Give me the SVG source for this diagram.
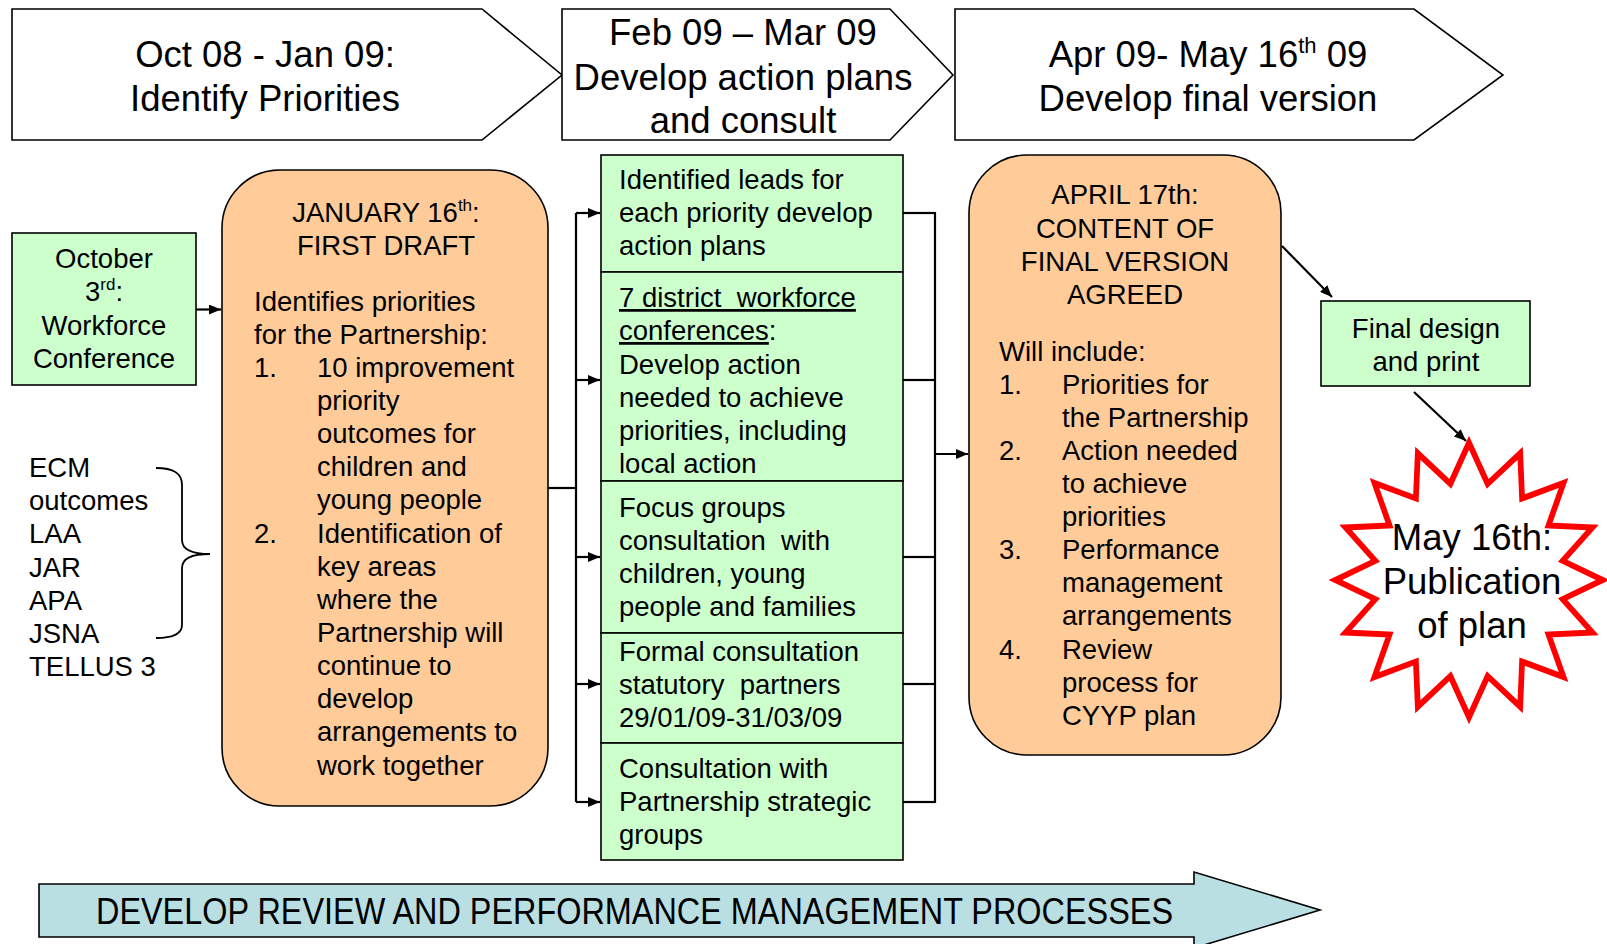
<svg xmlns="http://www.w3.org/2000/svg" width="1607" height="944" viewBox="0 0 1607 944">
<style>
text{font-family:"Liberation Sans",Arial,sans-serif;fill:#000}
.h{font-size:36.5px;text-anchor:middle}
.t{font-size:27.5px}
.c{text-anchor:middle}
.box{stroke:#000;stroke-width:1.6}
.g{fill:#CCFFCC}
.o{fill:#FFCC99}
.w{fill:#fff}
.con{stroke:#000;stroke-width:2.2;fill:none}
</style>
<defs>
<marker id="ah" viewBox="0 0 12 10" markerWidth="12" markerHeight="10" refX="12" refY="5" orient="auto" markerUnits="userSpaceOnUse">
<path d="M0,0 L12,5 L0,10 z" fill="#000"/>
</marker>
</defs>

<g id="phase1">
<polygon class="box w" points="12,9 482,9 562,75 482,140 12,140"/>
<text class="h" x="265" y="67">Oct 08 - Jan 09:</text>
<text class="h" x="265" y="111">Identify Priorities</text>
</g>
<g id="phase2">
<polygon class="box w" points="562,9 890,9 953,75 890,140 562,140"/>
<text class="h" x="743" y="45">Feb 09 – Mar 09</text>
<text class="h" x="743" y="90">Develop action plans</text>
<text class="h" x="743" y="133">and consult</text>
</g>
<g id="phase3">
<polygon class="box w" points="955,9 1414,9 1503,75 1414,140 955,140"/>
<text class="h" x="1208" y="67">Apr 09- May 16<tspan font-size="22" dy="-14">th</tspan><tspan dy="14"> 09</tspan></text>
<text class="h" x="1208" y="111">Develop final version</text>
</g>

<g id="october">
<rect class="box g" x="12" y="233" width="184" height="152"/>
<text class="t c" x="104" y="268">October</text>
<text class="t c" x="104" y="301">3<tspan font-size="17" dy="-11">rd</tspan><tspan dy="11">:</tspan></text>
<text class="t c" x="104" y="335">Workforce</text>
<text class="t c" x="104" y="368">Conference</text>
</g>

<g id="sources">
<text class="t" x="29" y="477">ECM</text>
<text class="t" x="29" y="510">outcomes</text>
<text class="t" x="29" y="543">LAA</text>
<text class="t" x="29" y="577">JAR</text>
<text class="t" x="29" y="610">APA</text>
<text class="t" x="29" y="643">JSNA</text>
<text class="t" x="29" y="676">TELLUS 3</text>
<path d="M156,468 C172,468 182,472 182,485 L182,540 C182,550 192,554 210,554 C192,554 182,558 182,568 L182,625 C182,635 172,638 156,638" fill="none" stroke="#000" stroke-width="1.8"/>
</g>

<g id="january">
<rect class="box o" x="222" y="170" width="326" height="636" rx="58" ry="58"/>
<text class="t c" x="386" y="222">JANUARY 16<tspan font-size="17" dy="-11">th</tspan><tspan dy="11">:</tspan></text>
<text class="t c" x="386" y="255">FIRST DRAFT</text>
<text class="t" x="254" y="311">Identifies priorities</text>
<text class="t" x="254" y="344">for the Partnership:</text>
<text class="t" x="254" y="377">1.</text>
<text class="t" x="317" y="377">10 improvement</text>
<text class="t" x="317" y="410">priority</text>
<text class="t" x="317" y="443">outcomes for</text>
<text class="t" x="317" y="476">children and</text>
<text class="t" x="317" y="509">young people</text>
<text class="t" x="254" y="543">2.</text>
<text class="t" x="317" y="543">Identification of</text>
<text class="t" x="317" y="576">key areas</text>
<text class="t" x="317" y="609">where the</text>
<text class="t" x="317" y="642">Partnership will</text>
<text class="t" x="317" y="675">continue to</text>
<text class="t" x="317" y="708">develop</text>
<text class="t" x="317" y="741">arrangements to</text>
<text class="t" x="317" y="775">work together</text>
</g>

<g id="leads">
<rect class="box g" x="601" y="155" width="302" height="117"/>
<text class="t" x="619" y="189">Identified leads for</text>
<text class="t" x="619" y="222">each priority develop</text>
<text class="t" x="619" y="255">action plans</text>
</g>
<g id="district">
<rect class="box g" x="601" y="272" width="302" height="209"/>
<text class="t" x="619" y="307" xml:space="preserve"><tspan text-decoration="underline">7 district  workforce</tspan></text>
<text class="t" x="619" y="340"><tspan text-decoration="underline">conferences</tspan>:</text>
<text class="t" x="619" y="374">Develop action</text>
<text class="t" x="619" y="407">needed to achieve</text>
<text class="t" x="619" y="440">priorities, including</text>
<text class="t" x="619" y="473">local action</text>
</g>
<g id="focus">
<rect class="box g" x="601" y="481" width="302" height="152"/>
<text class="t" x="619" y="517">Focus groups</text>
<text class="t" x="619" y="550" xml:space="preserve">consultation  with</text>
<text class="t" x="619" y="583">children, young</text>
<text class="t" x="619" y="616">people and families</text>
</g>
<g id="formal">
<rect class="box g" x="601" y="633" width="302" height="110"/>
<text class="t" x="619" y="661">Formal consultation</text>
<text class="t" x="619" y="694" xml:space="preserve">statutory  partners</text>
<text class="t" x="619" y="727">29/01/09-31/03/09</text>
</g>
<g id="strategic">
<rect class="box g" x="601" y="743" width="302" height="117"/>
<text class="t" x="619" y="778">Consultation with</text>
<text class="t" x="619" y="811">Partnership strategic</text>
<text class="t" x="619" y="844">groups</text>
</g>

<g id="april">
<rect class="box o" x="969" y="155" width="312" height="600" rx="58" ry="58"/>
<text class="t c" x="1125" y="204">APRIL 17th:</text>
<text class="t c" x="1125" y="238">CONTENT OF</text>
<text class="t c" x="1125" y="271">FINAL VERSION</text>
<text class="t c" x="1125" y="304">AGREED</text>
<text class="t" x="999" y="361">Will include:</text>
<text class="t" x="999" y="394">1.</text>
<text class="t" x="1062" y="394">Priorities for</text>
<text class="t" x="1062" y="427">the Partnership</text>
<text class="t" x="999" y="460">2.</text>
<text class="t" x="1062" y="460">Action needed</text>
<text class="t" x="1062" y="493">to achieve</text>
<text class="t" x="1062" y="526">priorities</text>
<text class="t" x="999" y="559">3.</text>
<text class="t" x="1062" y="559">Performance</text>
<text class="t" x="1062" y="592">management</text>
<text class="t" x="1062" y="625">arrangements</text>
<text class="t" x="999" y="659">4.</text>
<text class="t" x="1062" y="659">Review</text>
<text class="t" x="1062" y="692">process for</text>
<text class="t" x="1062" y="725">CYYP plan</text>
</g>

<g id="final">
<rect class="box g" x="1321" y="301" width="209" height="85"/>
<text class="t c" x="1426" y="338">Final design</text>
<text class="t c" x="1426" y="371">and print</text>
</g>

<g id="publication">
<polygon transform="translate(1469,580) scale(0.955,0.98)" fill="#fff" stroke="#FF0000" stroke-width="6" points="0,-140 19.5,-98.1 53.6,-129.3 55.6,-83.2 99,-99 83.2,-55.6 129.3,-53.6 98.1,-19.5 140,0 98.1,19.5 129.3,53.6 83.2,55.6 99,99 55.6,83.2 53.6,129.3 19.5,98.1 0,140 -19.5,98.1 -53.6,129.3 -55.6,83.2 -99,99 -83.2,55.6 -129.3,53.6 -98.1,19.5 -140,0 -98.1,-19.5 -129.3,-53.6 -83.2,-55.6 -99,-99 -55.6,-83.2 -53.6,-129.3 -19.5,-98.1"/>
<text class="h" x="1472" y="550">May 16th:</text>
<text class="h" x="1472" y="594">Publication</text>
<text class="h" x="1472" y="638">of plan</text>
</g>

<g id="process">
<polygon class="box" fill="#B9DFE3" points="39,884 1194,884 1194,872 1320,910 1194,948 1194,937 39,937"/>
<text x="96" y="924" font-size="36" textLength="1077" lengthAdjust="spacingAndGlyphs">DEVELOP REVIEW AND PERFORMANCE MANAGEMENT PROCESSES</text>
</g>

<g id="connectors">
<line class="con" x1="196" y1="309.5" x2="221" y2="309.5" marker-end="url(#ah)"/>
<line class="con" x1="548" y1="488" x2="576" y2="488"/>
<line class="con" x1="576" y1="213" x2="576" y2="802"/>
<line class="con" x1="576" y1="213" x2="600" y2="213" marker-end="url(#ah)"/>
<line class="con" x1="576" y1="380" x2="600" y2="380" marker-end="url(#ah)"/>
<line class="con" x1="576" y1="557" x2="600" y2="557" marker-end="url(#ah)"/>
<line class="con" x1="576" y1="684" x2="600" y2="684" marker-end="url(#ah)"/>
<line class="con" x1="576" y1="802" x2="600" y2="802" marker-end="url(#ah)"/>
<line class="con" x1="903" y1="213" x2="935" y2="213"/>
<line class="con" x1="903" y1="380" x2="935" y2="380"/>
<line class="con" x1="903" y1="557" x2="935" y2="557"/>
<line class="con" x1="903" y1="684" x2="935" y2="684"/>
<line class="con" x1="903" y1="802" x2="935" y2="802"/>
<line class="con" x1="935" y1="212" x2="935" y2="803"/>
<line class="con" x1="935" y1="454" x2="968" y2="454" marker-end="url(#ah)"/>
<line class="con" x1="1282" y1="246" x2="1332" y2="297" marker-end="url(#ah)"/>
<line class="con" x1="1414" y1="392" x2="1466" y2="441" marker-end="url(#ah)"/>
</g>
</svg>
